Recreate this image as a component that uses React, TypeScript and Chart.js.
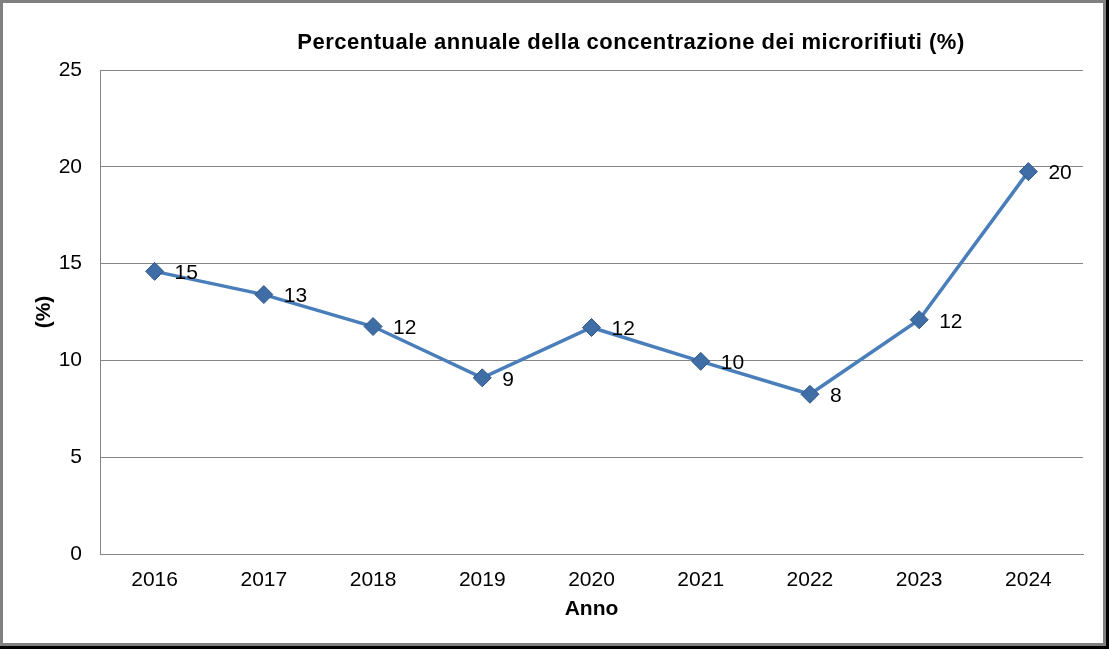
import React, { useEffect, useRef } from "react";
import { Chart, registerables } from "chart.js";

Chart.register(...registerables);

const years = ["2016", "2017", "2018", "2019", "2020", "2021", "2022", "2023", "2024"];
const percentages = [14.6, 13.4, 11.75, 9.1, 11.7, 9.95, 8.25, 12.1, 19.75];
const pointLabels = ["15", "13", "12", "9", "12", "10", "8", "12", "20"];
const yTicks = [0, 5, 10, 15, 20, 25];
const chartTitle = "Percentuale annuale della concentrazione dei microrifiuti (%)";
const xTitle = "Anno";
const yTitle = "(%)";

const FONT = '"Liberation Sans", Arial, sans-serif';

export default function App() {
  const ref = useRef<HTMLCanvasElement | null>(null);

  useEffect(() => {
    if (!ref.current) return;

    const titlePlugin = {
      id: "customTitle",
      afterDraw(chart: any) {
        const ctx = chart.ctx;
        ctx.save();
        ctx.font = `bold 22px ${FONT}`;
        try {
          (ctx as any).letterSpacing = "0.5px";
        } catch (e) {}
        ctx.fillStyle = "#000";
        ctx.textAlign = "center";
        ctx.textBaseline = "middle";
        ctx.fillText(chartTitle, 628, 40);
        ctx.restore();
      },
    };

    const labelPlugin = {
      id: "pointLabels",
      afterDatasetsDraw(chart: any) {
        const ctx = chart.ctx;
        const meta = chart.getDatasetMeta(0);
        ctx.save();
        ctx.font = `21px ${FONT}`;
        ctx.fillStyle = "#000";
        ctx.textAlign = "left";
        ctx.textBaseline = "middle";
        meta.data.forEach((pt: any, i: number) => {
          ctx.fillText(pointLabels[i], pt.x + 20, pt.y + 2);
        });
        ctx.restore();
      },
    };

    const chart = new Chart(ref.current, {
      type: "line",
      data: {
        labels: years,
        datasets: [
          {
            data: percentages,
            borderColor: "#4a7ebb",
            borderWidth: 3.5,
            pointStyle: "rectRot",
            pointRadius: 9,
            pointBackgroundColor: "#3f6da5",
            pointBorderColor: "#2f5686",
            pointBorderWidth: 1,
            tension: 0,
          },
        ],
      },
      options: {
        responsive: false,
        animation: false,
        layout: { padding: { left: 0, right: 20, top: 67, bottom: 0 } },
        plugins: {
          legend: { display: false },
          title: { display: false },
          tooltip: { enabled: false },
        },
        scales: {
          x: {
            offset: true,
            grid: { display: false, drawTicks: false },
            border: { display: true, color: "#868686", width: 1 },
            ticks: {
              color: "#000",
              font: { family: FONT, size: 21 },
              padding: 14,
              maxRotation: 0,
            },
            title: {
              display: true,
              text: xTitle,
              color: "#000",
              font: { family: FONT, size: 21, weight: "bold" },
              padding: { top: 0, bottom: 21 },
            },
            afterFit(scale: any) {
              scale.height = 89;
            },
          },
          y: {
            min: 0,
            max: 25,
            afterBuildTicks(scale: any) {
              scale.ticks = yTicks.map((v) => ({ value: v }));
            },
            grid: { color: "#868686", lineWidth: 1, drawTicks: false },
            border: { display: true, color: "#868686", width: 1 },
            ticks: {
              color: "#000",
              font: { family: FONT, size: 21 },
              padding: 18,
            },
            title: {
              display: true,
              text: yTitle,
              color: "#000",
              font: { family: FONT, size: 21, weight: "bold" },
              padding: { top: 29, bottom: 0 },
            },
            afterFit(scale: any) {
              scale.width = 97;
            },
          },
        },
      },
      plugins: [titlePlugin, labelPlugin],
    });

    return () => chart.destroy();
  }, []);

  return (
    <div
      style={{
        position: "fixed",
        left: 0,
        top: 0,
        width: 1109,
        height: 649,
        background: "#fff",
        overflow: "hidden",
      }}
    >
      <div
        style={{
          position: "absolute",
          left: 0,
          top: 0,
          width: 1106,
          height: 646,
          boxSizing: "border-box",
          border: "3px solid #808080",
          background: "#fff",
          boxShadow: "3px 0 0 #000, 0 3px 0 #000, 3px 3px 0 #000",
        }}
      >
        <canvas ref={ref} width={1100} height={640} style={{ display: "block", width: 1100, height: 640 }} />
      </div>
    </div>
  );
}
